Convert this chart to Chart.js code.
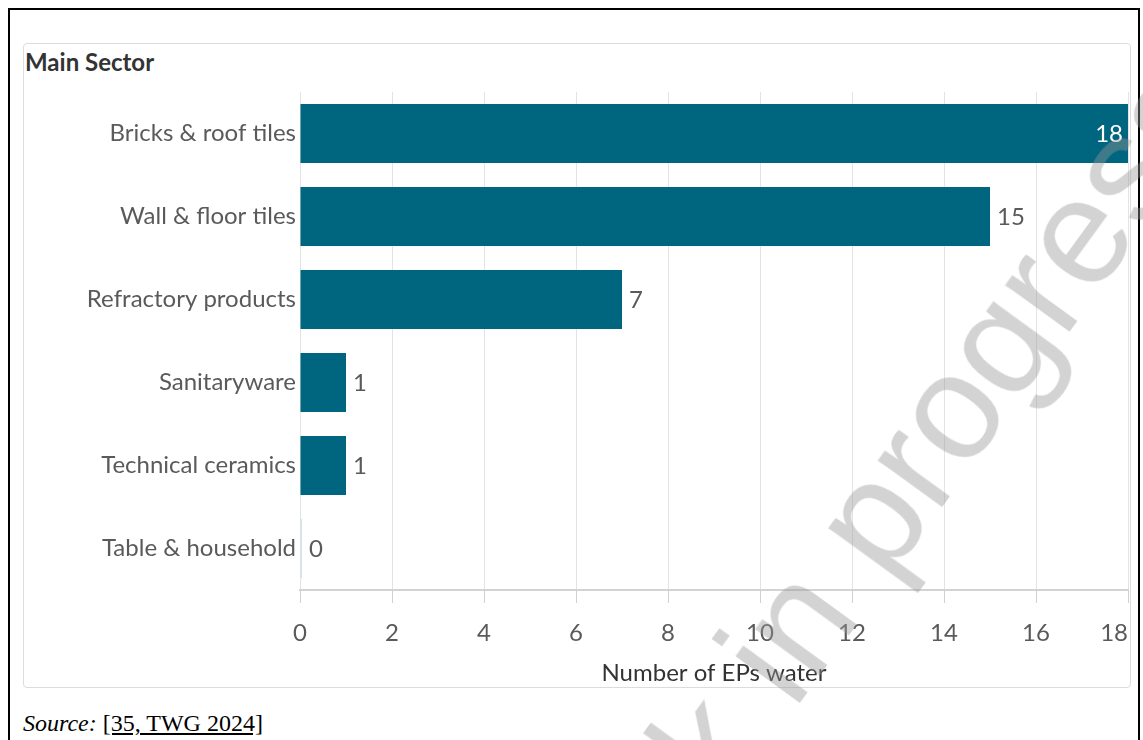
<!DOCTYPE html>
<html>
<head>
<meta charset="utf-8">
<script src="https://cdn.jsdelivr.net/npm/chart.js@4.4.1/dist/chart.umd.min.js"></script>
<style>
  html, body { margin: 0; padding: 0; background: #fff; }
  body { width: 1143px; height: 740px; position: relative; overflow: hidden; }
  #frame { position: absolute; left: 8px; top: 8px; width: 1128px; height: 780px; border: 2px solid #000; }
  #panel { position: absolute; left: 23px; top: 43px; width: 1106px; height: 643px; border: 1px solid #dcdcdc; border-radius: 4px; }
  #title { position: absolute; left: 25px; top: 47px; font: bold 24px Lato; color: #333; }
  #wrap { position: absolute; left: 24px; top: 44px; width: 1119px; height: 642px; }
  #source { position: absolute; left: 23px; top: 711px; font: 24px "Liberation Serif"; line-height: 24px; color: #000; }
  #wm { position: absolute; left: 856px; top: 538px; transform: translate(-50%, -50%) rotate(-54deg);
        font: 150px "Liberation Sans"; color: rgba(150, 150, 150, 0.42); white-space: nowrap; pointer-events: none; }
</style>
</head>
<body>
<div id="frame"></div>
<div id="panel"></div>
<div id="title">Main Sector</div>
<div id="wrap"><canvas id="myChart"></canvas></div>
<div id="source"><i>Source:</i> <u>[35, TWG 2024]</u></div>
<div id="wm">Work in progress</div>
<script>
var sectors = ['Bricks & roof tiles', 'Wall & floor tiles', 'Refractory products',
               'Sanitaryware', 'Technical ceramics', 'Table & household'];
var epCounts = [18, 15, 7, 1, 1, 0];
var xMin = 0, xMax = 18, xStep = 2;

Chart.defaults.font.family = 'Lato';

// value labels at the end of each bar (inside for the longest one)
var valueLabels = {
    id: 'valueLabels',
    afterDatasetsDraw: function (chart) {
        var ctx = chart.ctx;
        var meta = chart.getDatasetMeta(0);
        ctx.save();
        ctx.font = '24px Lato';
        ctx.textBaseline = 'middle';
        meta.data.forEach(function (bar, i) {
            var v = epCounts[i];
            if (v >= xMax) {
                ctx.fillStyle = '#ffffff';
                ctx.textAlign = 'right';
                ctx.fillText(String(v), bar.x - 5, bar.y + 1);
            } else {
                ctx.fillStyle = '#5a5a5a';
                ctx.textAlign = 'left';
                ctx.fillText(String(v), bar.x + 7, bar.y + 1);
            }
        });
        ctx.restore();
    }
};

var ctx = document.getElementById('myChart').getContext('2d');
var chart = new Chart(ctx, {
    type: 'bar',
    data: {
        labels: sectors,
        datasets: [{
            data: epCounts,
            // a zero bar still shows as a faint sliver
            backgroundColor: epCounts.map(function (v) { return v === 0 ? '#d6e4ea' : '#00657f'; }),
            minBarLength: 2,
            barPercentage: 0.71,
            categoryPercentage: 1.0
        }]
    },
    options: {
        indexAxis: 'y',
        responsive: true,
        maintainAspectRatio: false,
        animation: false,
        layout: { padding: { top: 48, right: 15, left: 0, bottom: 0 } },
        plugins: { legend: { display: false }, tooltip: { enabled: false } },
        scales: {
            x: {
                min: xMin,
                max: xMax,
                ticks: {
                    stepSize: xStep,
                    color: '#5a5a5a',
                    font: { size: 24 },
                    padding: 16,
                    maxRotation: 0,
                    callback: function (value) {
                        // last label sits left of its tick
                        return value === xMax ? value + '\u2007\u2007' : value;
                    }
                },
                grid: { color: '#e3e3e3', tickColor: '#d0d0d0', tickLength: 13 },
                border: { color: '#d3d3d3', width: 2 },
                title: {
                    display: true,
                    text: 'Number of EPs water',
                    color: '#333',
                    font: { size: 24 },
                    padding: { top: 2, bottom: -2 }
                },
                afterFit: function (scale) {
                    scale.height = 96;
                    scale.paddingLeft = 0;
                    scale.paddingRight = 0;
                }
            },
            y: {
                ticks: { color: '#5a5a5a', font: { size: 24 }, padding: 4 },
                grid: { display: false, drawTicks: false },
                border: { display: false },
                afterFit: function (scale) {
                    scale.width = 276;
                }
            }
        }
    },
    plugins: [valueLabels]
});
</script>
</body>
</html>
